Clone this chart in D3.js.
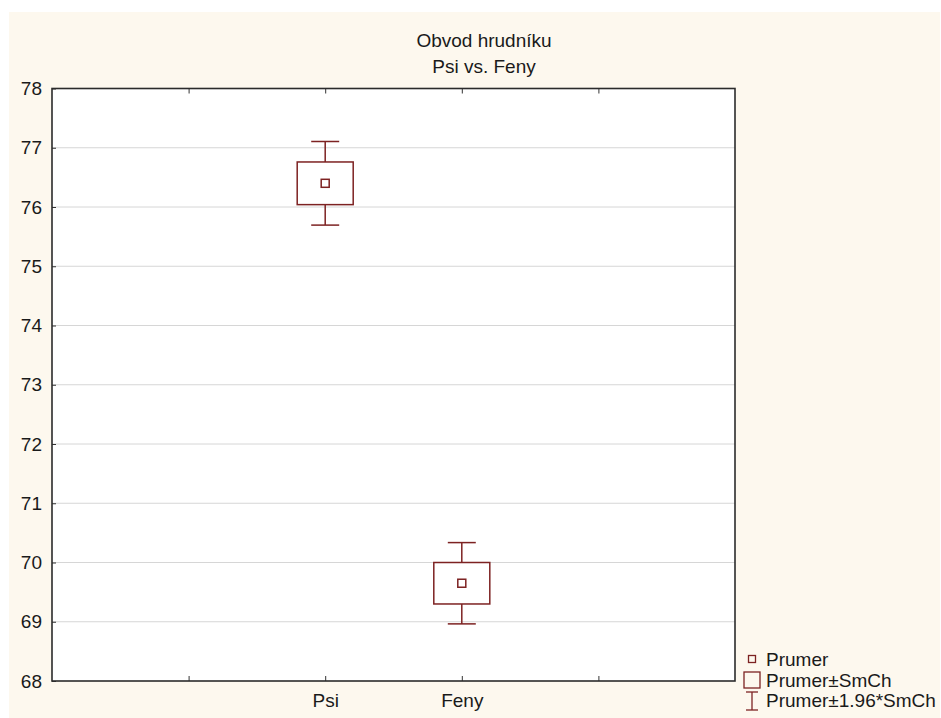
<!DOCTYPE html>
<html>
<head>
<meta charset="utf-8">
<script src="https://cdn.jsdelivr.net/npm/d3@7"></script>
<style>
  html, body { margin: 0; padding: 0; background: #ffffff; }
  svg { display: block; }
  text { font-family: "Liberation Sans", Arial, sans-serif; fill: #1a1a1a; }
</style>
</head>
<body>
<svg id="chart" width="941" height="718"></svg>
<script>
// Chest girth: mean, standard error, 95% interval per group
const categories = ["Psi", "Feny"];
const means = [76.40, 69.65];
const stdErrors = [0.36, 0.35];
const yTicks = [68, 69, 70, 71, 72, 73, 74, 75, 76, 77, 78];
const titleLines = ["Obvod hrudníku", "Psi vs. Feny"];
const legendLabels = ["Prumer", "Prumer±SmCh", "Prumer±1.96*SmCh"];

const W = 941, H = 718;
const margin = { left: 52, right: 206, top: 88.5, bottom: 37 };
const plotW = W - margin.left - margin.right;
const plotH = H - margin.top - margin.bottom;
const markColor = "#7d2222";
const fontSize = 19;

const svg = d3.select("#chart");

// page background
svg.append("rect").attr("x", 9).attr("y", 12).attr("width", 931).attr("height", 706)
  .attr("fill", "#fdf8ee");

// category slots: 5 equal intervals, groups sit on slots 2 and 3
const x = d3.scaleLinear().domain([0, 5]).range([margin.left, margin.left + plotW]);
const catX = i => x(i + 2);
const y = d3.scaleLinear().domain([68, 78]).range([margin.top + plotH, margin.top]);

// plot area
svg.append("rect")
  .attr("x", x(0)).attr("y", y(78))
  .attr("width", x(5) - x(0)).attr("height", y(68) - y(78))
  .attr("fill", "#ffffff");

// horizontal gridlines
svg.append("g").selectAll("line")
  .data(yTicks.filter(t => t > 68 && t < 78))
  .join("line")
  .attr("x1", x(0)).attr("x2", x(5))
  .attr("y1", d => y(d)).attr("y2", d => y(d))
  .attr("stroke", "#d6d6d6").attr("stroke-width", 1);

// y axis labels and inward ticks
const yAxis = d3.axisLeft(y).tickValues(yTicks).tickSize(-4).tickPadding(10).tickFormat(d3.format("d"));
const gy = svg.append("g").attr("transform", `translate(${x(0)},0)`).call(yAxis);
gy.select(".domain").remove();
gy.selectAll(".tick line").attr("stroke", "#333");
gy.selectAll(".tick text").attr("font-size", fontSize).attr("font-family", "Liberation Sans, Arial, sans-serif")
  .attr("fill", "#1a1a1a");

// x axis: inward ticks on top and bottom edges, labels under groups
const slotTicks = [1, 2, 3, 4];
const xBottom = d3.axisBottom(x).tickValues(slotTicks).tickSize(-5)
  .tickFormat(d => categories[d - 2] || "").tickPadding(13);
const gx = svg.append("g").attr("transform", `translate(0,${y(68)})`).call(xBottom);
gx.select(".domain").remove();
gx.selectAll(".tick line").attr("stroke", "#333");
gx.selectAll(".tick text").attr("font-size", fontSize).attr("font-family", "Liberation Sans, Arial, sans-serif")
  .attr("fill", "#1a1a1a");

const xTop = d3.axisTop(x).tickValues(slotTicks).tickSize(-5).tickFormat("");
const gxt = svg.append("g").attr("transform", `translate(0,${y(78)})`).call(xTop);
gxt.select(".domain").remove();
gxt.selectAll(".tick line").attr("stroke", "#333");

// plot frame
svg.append("rect")
  .attr("x", x(0)).attr("y", y(78))
  .attr("width", x(5) - x(0)).attr("height", y(68) - y(78))
  .attr("fill", "none").attr("stroke", "#2b2b2b").attr("stroke-width", 1.6);

// titles
const titleX = 484;
svg.selectAll(".title").data(titleLines).join("text")
  .attr("class", "title")
  .attr("x", titleX).attr("y", (d, i) => 47 + i * 26)
  .attr("text-anchor", "middle").attr("font-size", fontSize)
  .text(d => d);

// box-whisker marks
const boxHalf = 28, capHalf = 14, meanHalf = 4;
const groups = svg.append("g").selectAll("g")
  .data(categories.map((c, i) => ({ c, i, m: means[i], se: stdErrors[i] })))
  .join("g");

groups.append("line") // upper whisker
  .attr("x1", d => catX(d.i)).attr("x2", d => catX(d.i))
  .attr("y1", d => y(d.m + 1.96 * d.se)).attr("y2", d => y(d.m + d.se))
  .attr("stroke", markColor).attr("stroke-width", 1.5);
groups.append("line") // lower whisker
  .attr("x1", d => catX(d.i)).attr("x2", d => catX(d.i))
  .attr("y1", d => y(d.m - d.se)).attr("y2", d => y(d.m - 1.96 * d.se))
  .attr("stroke", markColor).attr("stroke-width", 1.5);
groups.append("line") // upper cap
  .attr("x1", d => catX(d.i) - capHalf).attr("x2", d => catX(d.i) + capHalf)
  .attr("y1", d => y(d.m + 1.96 * d.se)).attr("y2", d => y(d.m + 1.96 * d.se))
  .attr("stroke", markColor).attr("stroke-width", 1.5);
groups.append("line") // lower cap
  .attr("x1", d => catX(d.i) - capHalf).attr("x2", d => catX(d.i) + capHalf)
  .attr("y1", d => y(d.m - 1.96 * d.se)).attr("y2", d => y(d.m - 1.96 * d.se))
  .attr("stroke", markColor).attr("stroke-width", 1.5);
groups.append("rect") // mean ± SE box
  .attr("x", d => catX(d.i) - boxHalf).attr("width", boxHalf * 2)
  .attr("y", d => y(d.m + d.se)).attr("height", d => y(d.m - d.se) - y(d.m + d.se))
  .attr("fill", "none").attr("stroke", markColor).attr("stroke-width", 1.5);
groups.append("rect") // mean marker
  .attr("x", d => catX(d.i) - meanHalf).attr("width", meanHalf * 2)
  .attr("y", d => y(d.m) - meanHalf).attr("height", meanHalf * 2)
  .attr("fill", "none").attr("stroke", markColor).attr("stroke-width", 1.5);

// legend
const lg = svg.append("g");
const lgX = 752, lgY = [659, 680, 700], lgTextX = 766;
lg.append("rect").attr("x", lgX - 3.5).attr("y", lgY[0] - 3.5).attr("width", 7).attr("height", 7)
  .attr("fill", "none").attr("stroke", markColor).attr("stroke-width", 1.3);
lg.append("rect").attr("x", lgX - 8).attr("y", lgY[1] - 8).attr("width", 16).attr("height", 16)
  .attr("fill", "none").attr("stroke", markColor).attr("stroke-width", 1.3);
lg.append("line").attr("x1", lgX).attr("x2", lgX).attr("y1", lgY[2] - 8).attr("y2", lgY[2] + 10)
  .attr("stroke", markColor).attr("stroke-width", 1.3);
lg.append("line").attr("x1", lgX - 6).attr("x2", lgX + 6).attr("y1", lgY[2] - 8).attr("y2", lgY[2] - 8)
  .attr("stroke", markColor).attr("stroke-width", 1.3);
lg.append("line").attr("x1", lgX - 6).attr("x2", lgX + 6).attr("y1", lgY[2] + 10).attr("y2", lgY[2] + 10)
  .attr("stroke", markColor).attr("stroke-width", 1.3);
lg.selectAll("text").data(legendLabels).join("text")
  .attr("x", lgTextX).attr("y", (d, i) => lgY[i]).attr("dy", "0.35em")
  .attr("font-size", fontSize).attr("fill", "#1a1a1a")
  .text(d => d);
</script>
</body>
</html>
